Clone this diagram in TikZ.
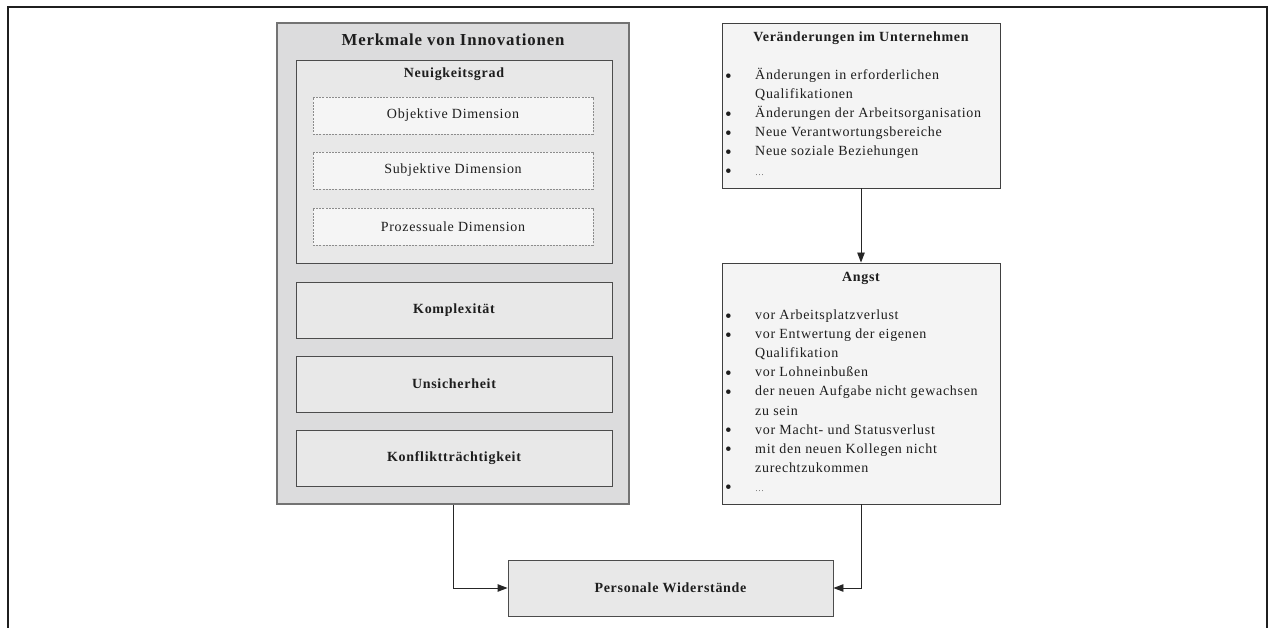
\documentclass[tikz,border=0pt]{standalone}
\usepackage{fontspec}
\setmainfont{Liberation Serif}[LetterSpace=5]
\usetikzlibrary{arrows.meta}
\definecolor{txt}{HTML}{1E1E1E}
\definecolor{outerfill}{HTML}{DCDCDD}
\definecolor{midfill}{HTML}{E8E8E8}
\definecolor{lightfill}{HTML}{F4F4F4}
\definecolor{dashfill}{HTML}{F5F5F5}
\tikzset{
  box/.style={draw=black!70, line width=0.9pt, fill=midfill, rectangle, inner sep=0pt, text=txt},
  outerbox/.style={draw=black!55, line width=1.2pt, fill=outerfill, rectangle, inner sep=0pt},
  dashbox/.style={draw=black!45, dashed, dash pattern=on 2pt off 1.2pt, line width=0.6pt, fill=dashfill, rectangle, inner sep=0pt, text=txt},
  listbox/.style={draw=black!75, line width=0.9pt, fill=lightfill, rectangle, inner sep=0pt},
  ttl/.style={font=\fontsize{14}{17}\selectfont\bfseries, text=txt, inner sep=0pt},
  plain/.style={font=\fontsize{14}{17}\selectfont, text=txt},
  lst/.style={anchor=north west, inner sep=0pt, text=txt, font=\fontsize{14}{19.1}\selectfont},
  conn/.style={draw=black!85, line width=0.9pt},
  tip/.style={-{Triangle[length=10pt,width=7.5pt]}}
}
\newcommand{\ldt}{{\fontsize{9}{10}\selectfont\textcolor{black!60}{\ldots}}}
\newcommand{\bul}{\raisebox{-2.5pt}{\fontsize{19}{19}\selectfont\textbullet}}
\begin{document}
\begin{tikzpicture}[x=1pt,y=-1pt]
\useasboundingbox (0,0) rectangle (1270,628);
% frame
\draw[line width=2.2pt, draw=black!88] (7.7,628) -- (7.7,6.7) -- (1267,6.7) -- (1267,628);

% left column
\node[outerbox, minimum width=352pt, minimum height=481pt] (mer) at (453,263.5) {};
\node[ttl, font=\fontsize{16.8}{19}\selectfont\bfseries] (mert) at (453,40) {Merkmale von Innovationen};
\node[box, minimum width=316pt, minimum height=203pt] (neu) at (454,161.5) {};
\node[ttl] (neut) at (454,74) {Neuigkeitsgrad};
\node[dashbox, plain, minimum width=280pt, minimum height=37pt] (obj) at (453,115.5) {Objektive Dimension};
\node[dashbox, plain, minimum width=280pt, minimum height=37pt] (sub) at (453,170.5) {Subjektive Dimension};
\node[dashbox, plain, minimum width=280pt, minimum height=37pt] (pro) at (453,226.5) {Prozessuale Dimension};
\node[box, font=\fontsize{14}{17}\selectfont\bfseries, minimum width=316pt, minimum height=56pt] (kom) at (454,310) {Komplexität};
\node[box, font=\fontsize{14}{17}\selectfont\bfseries, minimum width=316pt, minimum height=56pt] (uns) at (454,384) {Unsicherheit};
\node[box, font=\fontsize{14}{17}\selectfont\bfseries, minimum width=316pt, minimum height=56pt] (kon) at (454,458) {Konfliktträchtigkeit};

% right column
\node[listbox, minimum width=278pt, minimum height=165pt] (ver) at (861,105.5) {};
\node[ttl] (vert) at (861,38) {Veränderungen im Unternehmen};
\node[lst] (verl) at (725,66) {\begin{tabular}{@{}p{30pt}@{}l@{}}
\bul & Änderungen in erforderlichen\\
 & Qualifikationen\\
\bul & Änderungen der Arbeitsorganisation\\
\bul & Neue Verantwortungsbereiche\\
\bul & Neue soziale Beziehungen\\
\bul & \ldt
\end{tabular}};

\node[listbox, minimum width=278pt, minimum height=241pt] (ang) at (861,383.5) {};
\node[ttl] (angt) at (861,278) {Angst};
\node[lst] (angl) at (725,306) {\begin{tabular}{@{}p{30pt}@{}l@{}}
\bul & vor Arbeitsplatzverlust\\
\bul & vor Entwertung der eigenen\\
 & Qualifikation\\
\bul & vor Lohneinbußen\\
\bul & der neuen Aufgabe nicht gewachsen\\
 & zu sein\\
\bul & vor Macht- und Statusverlust\\
\bul & mit den neuen Kollegen nicht\\
 & zurechtzukommen\\
\bul & \ldt
\end{tabular}};

% bottom
\node[box, font=\fontsize{14}{17}\selectfont\bfseries, minimum width=325pt, minimum height=56pt] (per) at (670.5,588) {Personale Widerstände};

% connectors
\draw[conn, tip] (ver.south) -- (ang.north);
\draw[conn, tip] (mer.south) |- (per.west);
\draw[conn, tip] (ang.south) |- (per.east);
\end{tikzpicture}
\end{document}
